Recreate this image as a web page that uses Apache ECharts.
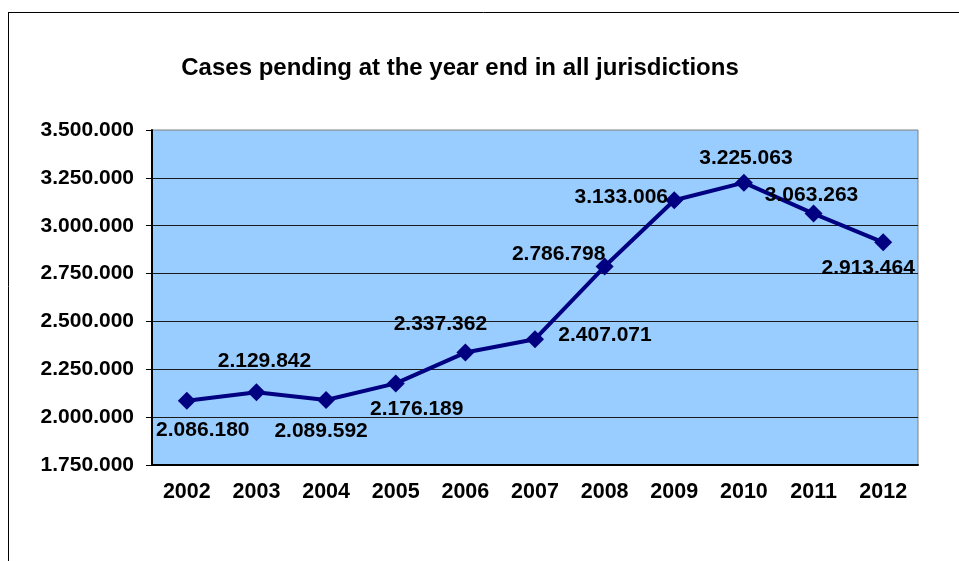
<!DOCTYPE html>
<html>
<head>
<meta charset="utf-8">
<script src="https://cdn.jsdelivr.net/npm/echarts@6/dist/echarts.min.js"></script>
<style>
  html, body { margin: 0; padding: 0; background: #fff; }
  #chart { width: 959px; height: 561px; }
</style>
</head>
<body>
<div id="chart"></div>
<script>
const years = ['2002', '2003', '2004', '2005', '2006', '2007', '2008', '2009', '2010', '2011', '2012']
const pending = [2086180, 2129842, 2089592, 2176189, 2337362, 2407071, 2786798, 3133006, 3225063, 3063263, 2913464]
// where each value label sits relative to its marker (px)
const labelOffsets = [[16, 30], [8, -31], [-5, 31], [21, 26], [-25, -28], [70, -4], [-46, -12], [-53, -3], [2, -24], [-2, -18], [-15, 26]]

const font = 'Arial, "Liberation Sans", sans-serif'

function dots (v) {
  return String(Math.round(v)).replace(/\B(?=(\d{3})+(?!\d))/g, '.')
}

const chart = echarts.init(document.getElementById('chart'))

chart.setOption({
  animation: false,
  backgroundColor: '#ffffff',
  title: {
    text: 'Cases pending at the year end in all jurisdictions',
    left: 455,
    top: 51,
    textAlign: 'center',
    textStyle: { fontFamily: font, fontSize: 24, fontWeight: 'bold', color: '#000' }
  },
  graphic: [
    { type: 'line', shape: { x1: 8.5, y1: 12, x2: 8.5, y2: 561 }, style: { stroke: '#000', lineWidth: 1 } },
    { type: 'line', shape: { x1: 8, y1: 12.5, x2: 959, y2: 12.5 }, style: { stroke: '#000', lineWidth: 1 } }
  ],
  grid: {
    left: 152,
    top: 130,
    width: 766,
    height: 335,
    show: true,
    backgroundColor: '#99ccff',
    borderColor: '#808080',
    borderWidth: 1
  },
  xAxis: {
    type: 'category',
    data: years,
    boundaryGap: true,
    axisLine: { lineStyle: { color: '#000', width: 2 } },
    axisTick: { length: 6, lineStyle: { color: '#000' } },
    axisLabel: { margin: 16, fontFamily: font, fontSize: 21.5, fontWeight: 'bold', color: '#000' }
  },
  yAxis: {
    type: 'value',
    min: 1750000,
    max: 3500000,
    interval: 250000,
    axisLine: { show: true, lineStyle: { color: '#000', width: 2 } },
    axisTick: { show: true, length: 6, lineStyle: { color: '#000' } },
    axisLabel: { margin: 18, fontFamily: font, fontSize: 21, fontWeight: 'bold', color: '#000', formatter: dots },
    splitLine: { show: true, showMinLine: false, showMaxLine: false, lineStyle: { color: '#1a1a1a', width: 1 } }
  },
  series: [{
    type: 'line',
    data: pending.map((v, i) => ({
      value: v,
      label: { offset: labelOffsets[i] }
    })),
    symbol: 'diamond',
    symbolSize: 18,
    lineStyle: { color: '#000080', width: 4 },
    itemStyle: { color: '#000080' },
    label: {
      show: true,
      position: 'inside',
      align: 'center',
      verticalAlign: 'middle',
      fontFamily: font,
      fontSize: 21,
      fontWeight: 'bold',
      color: '#000',
      formatter: p => dots(p.value)
    }
  }]
})
</script>
</body>
</html>
